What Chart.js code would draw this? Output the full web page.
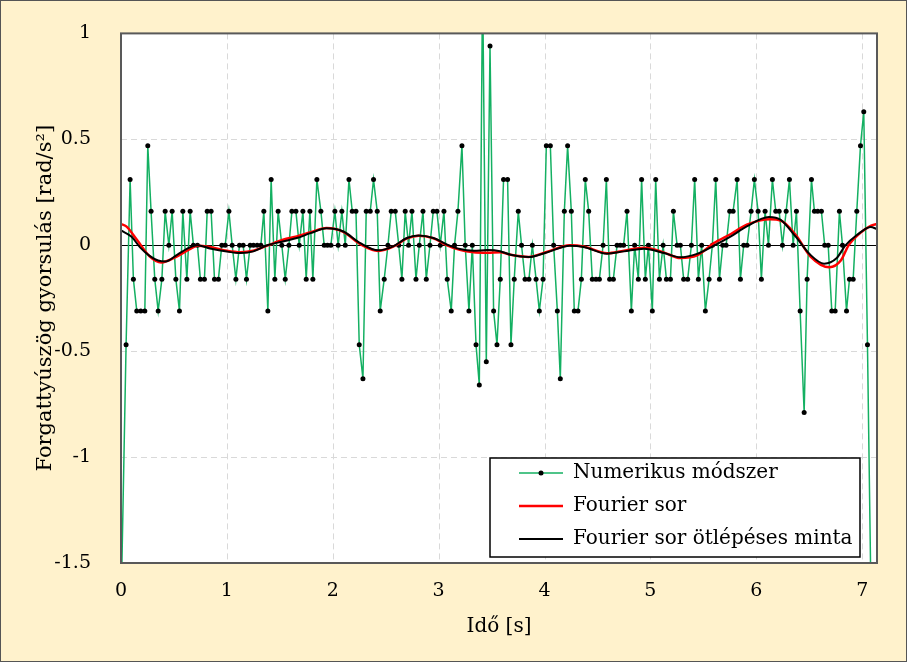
<!DOCTYPE html>
<html>
<head>
<meta charset="utf-8">
<script src="https://cdn.jsdelivr.net/npm/chart.js@4.4.0/dist/chart.umd.min.js"></script>
<style>
  html, body { margin: 0; padding: 0; background: #fff2cc; }
</style>
</head>
<body>
<canvas id="chart" width="907" height="662"></canvas>
<script>
// Numerikus módszer (time [s], value [rad/s^2])
const numTime = [
  0, 0.048, 0.086, 0.117, 0.149, 0.187, 0.225, 0.253, 0.284, 0.319,
  0.351, 0.386, 0.417, 0.452, 0.483, 0.518, 0.552, 0.584, 0.622, 0.653,
  0.684, 0.722, 0.750, 0.788, 0.814, 0.851, 0.883, 0.920, 0.952, 0.984,
  1.019, 1.050, 1.085, 1.119, 1.154, 1.185, 1.220, 1.251, 1.286, 1.321,
  1.349, 1.387, 1.418, 1.453, 1.484, 1.519, 1.551, 1.586, 1.614, 1.652,
  1.683, 1.718, 1.749, 1.784, 1.812, 1.850, 1.888, 1.919, 1.950, 1.982,
  2.020, 2.051, 2.086, 2.118, 2.153, 2.184, 2.219, 2.250, 2.285, 2.316,
  2.354, 2.385, 2.420, 2.448, 2.486, 2.521, 2.552, 2.590, 2.623, 2.653,
  2.684, 2.716, 2.748, 2.786, 2.817, 2.852, 2.883, 2.918, 2.949, 2.984,
  3.015, 3.050, 3.081, 3.119, 3.150, 3.182, 3.220, 3.251, 3.286, 3.318,
  3.353, 3.384, 3.415, 3.450, 3.485, 3.519, 3.551, 3.582, 3.613, 3.651,
  3.683, 3.714, 3.752, 3.783, 3.816, 3.853, 3.885, 3.920, 3.951, 3.986,
  4.017, 4.055, 4.086, 4.121, 4.149, 4.187, 4.218, 4.253, 4.281, 4.316,
  4.348, 4.385, 4.417, 4.451, 4.486, 4.518, 4.553, 4.584, 4.615, 4.650,
  4.685, 4.716, 4.747, 4.779, 4.820, 4.851, 4.886, 4.917, 4.952, 4.981,
  5.018, 5.050, 5.085, 5.120, 5.151, 5.189, 5.217, 5.252, 5.283, 5.314,
  5.352, 5.387, 5.418, 5.453, 5.484, 5.519, 5.554, 5.585, 5.617, 5.652,
  5.683, 5.715, 5.749, 5.781, 5.819, 5.850, 5.881, 5.913, 5.951, 5.982,
  6.017, 6.048, 6.083, 6.115, 6.152, 6.184, 6.216, 6.247, 6.282, 6.313,
  6.348, 6.379, 6.414, 6.452, 6.480, 6.521, 6.549, 6.580, 6.615, 6.646,
  6.679, 6.713, 6.745, 6.785, 6.814, 6.852, 6.880, 6.915, 6.949, 6.984,
  7.015, 7.050, 7.083
];
const numValue = [
  -1.73, -0.47, 0.31, -0.16, -0.31, -0.31, -0.31, 0.47, 0.16, -0.16,
  -0.31, -0.16, 0.16, 0, 0.16, -0.16, -0.31, 0.16, -0.16, 0.16,
  0, 0, -0.16, -0.16, 0.16, 0.16, -0.16, -0.16, 0, 0,
  0.16, 0, -0.16, 0, 0, -0.16, 0, 0, 0, 0,
  0.16, -0.31, 0.31, -0.16, 0.16, 0, -0.16, 0, 0.16, 0.16,
  0, 0.16, -0.16, 0.16, -0.16, 0.31, 0.16, 0, 0, 0,
  0.16, 0, 0.16, 0, 0.31, 0.16, 0.16, -0.47, -0.63, 0.16,
  0.16, 0.31, 0.16, -0.31, -0.16, 0, 0.16, 0.16, 0, -0.16,
  0.16, 0, 0.16, -0.16, 0, 0.16, -0.16, 0, 0.16, 0.16,
  0, 0.16, -0.16, -0.31, 0, 0.16, 0.47, 0, -0.31, 0,
  -0.47, -0.66, 1.26, -0.55, 0.94, -0.31, -0.47, -0.16, 0.31, 0.31,
  -0.47, -0.16, 0.16, 0, -0.16, -0.16, 0, -0.16, -0.31, -0.16,
  0.47, 0.47, 0, -0.31, -0.63, 0.16, 0.47, 0.16, -0.31, -0.31,
  -0.16, 0.31, 0.16, -0.16, -0.16, -0.16, 0, 0.31, -0.16, -0.16,
  0, 0, 0, 0.16, -0.31, 0, -0.16, 0.31, -0.16, 0,
  -0.31, 0.31, -0.16, 0, -0.16, -0.16, 0.16, 0, 0, -0.16,
  -0.16, 0, 0.31, -0.16, 0, -0.31, -0.16, 0, 0.31, -0.16,
  0, 0, 0.16, 0.16, 0.31, -0.16, 0, 0, 0.16, 0.31,
  0.16, -0.16, 0.16, 0, 0.31, 0.16, 0.16, 0, 0.16, 0.31,
  0, 0.16, -0.31, -0.79, -0.16, 0.31, 0.16, 0.16, 0.16, 0,
  0, -0.31, -0.31, 0.16, 0, -0.31, -0.16, -0.16, 0.16, 0.47,
  0.63, -0.47, -1.65
];

// Fourier sor
const fourierTime = [0, 0.05, 0.15, 0.27, 0.38, 0.53, 0.65, 0.72, 0.84, 1.0, 1.13, 1.25, 1.38, 1.53, 1.66, 1.79, 1.94,
  2.10, 2.26, 2.43, 2.57, 2.70, 2.81, 2.95, 3.08, 3.20, 3.33, 3.46, 3.58, 3.68, 3.85, 4.02, 4.24, 4.37, 4.59, 4.75,
  4.94, 5.13, 5.28, 5.44, 5.60, 5.76, 5.91, 6.13, 6.23, 6.37, 6.51, 6.69, 6.80, 6.87, 6.98, 7.08, 7.14];
const fourierValue = [0.10, 0.089, 0.026, -0.052, -0.081, -0.052, -0.018, -0.002, -0.008, -0.026, -0.033, -0.026, -0.002,
  0.026, 0.042, 0.061, 0.081, 0.063, 0.005, -0.027, -0.007, 0.032, 0.045, 0.033, 0.0, -0.022, -0.033, -0.035, -0.033,
  -0.045, -0.055, -0.032, 0.0, -0.006, -0.038, -0.026, -0.012, -0.035, -0.06, -0.048, 0.01, 0.053, 0.097, 0.123, 0.117,
  0.05, -0.052, -0.104, -0.071, -0.002, 0.057, 0.092, 0.10];

// Fourier sor ötlépéses minta
const mintaTime = [0, 0.1, 0.18, 0.27, 0.35, 0.42, 0.53, 0.65, 0.72, 0.84, 1.0, 1.13, 1.25, 1.38, 1.53, 1.66, 1.79, 1.94,
  2.10, 2.26, 2.43, 2.57, 2.70, 2.81, 2.95, 3.08, 3.20, 3.33, 3.46, 3.58, 3.68, 3.85, 4.02, 4.24, 4.37, 4.59, 4.75,
  4.94, 5.13, 5.28, 5.44, 5.60, 5.76, 5.91, 6.12, 6.23, 6.37, 6.51, 6.64, 6.76, 6.84, 6.95, 7.08, 7.14];
const mintaValue = [0.07, 0.04, -0.01, -0.05, -0.072, -0.077, -0.045, -0.01, 0.0, -0.015, -0.03, -0.037, -0.029, 0.0,
  0.018, 0.034, 0.057, 0.08, 0.065, 0.01, -0.024, -0.005, 0.034, 0.046, 0.034, 0.003, -0.018, -0.026, -0.023, -0.028,
  -0.045, -0.056, -0.034, -0.002, -0.008, -0.04, -0.029, -0.016, -0.037, -0.057, -0.041, -0.002, 0.042, 0.089, 0.133,
  0.12, 0.042, -0.045, -0.087, -0.06, -0.002, 0.048, 0.086, 0.076];

const xTicks = [0, 1, 2, 3, 4, 5, 6, 7];
const yTicks = [-1.5, -1, -0.5, 0, 0.5, 1];

const FONT = "'DejaVu Serif', serif";

function toPoints(xs, ys) {
  return xs.map((x, i) => ({ x: x, y: ys[i] }));
}

// background, dashed grid, zero line, frame and the legend box inside the plot
const framePlugin = {
  id: "frame",
  beforeDraw(chart) {
    const ctx = chart.ctx;
    const a = chart.chartArea;
    ctx.save();
    ctx.fillStyle = "#fff2cc";
    ctx.fillRect(0, 0, chart.width, chart.height);
    ctx.strokeStyle = "#555";
    ctx.lineWidth = 1;
    ctx.strokeRect(0.5, 0.5, chart.width - 1, chart.height - 1);
    ctx.fillStyle = "#ffffff";
    ctx.fillRect(a.left, a.top, a.right - a.left, a.bottom - a.top);
    ctx.restore();
  },
  beforeDatasetsDraw(chart) {
    const ctx = chart.ctx;
    const a = chart.chartArea;
    const xs = chart.scales.x, ys = chart.scales.y;
    ctx.save();
    ctx.strokeStyle = "#d9d9d9";
    ctx.lineWidth = 1;
    ctx.setLineDash([6, 4]);
    xTicks.forEach(v => {
      if (v === 0) return;
      const px = Math.round(xs.getPixelForValue(v)) + 0.5;
      ctx.beginPath();
      ctx.moveTo(px, a.top);
      ctx.lineTo(px, a.bottom);
      ctx.stroke();
    });
    yTicks.forEach(v => {
      if (v === 0 || v === ys.min || v === ys.max) return;
      const py = Math.round(ys.getPixelForValue(v)) + 0.5;
      ctx.beginPath();
      ctx.moveTo(a.left, py);
      ctx.lineTo(a.right, py);
      ctx.stroke();
    });
    ctx.setLineDash([]);
    const y0 = Math.round(ys.getPixelForValue(0)) + 0.5;
    ctx.strokeStyle = "#000";
    ctx.lineWidth = 1.2;
    ctx.beginPath();
    ctx.moveTo(a.left, y0);
    ctx.lineTo(a.right, y0);
    ctx.stroke();
    ctx.restore();
  },
  afterDatasetsDraw(chart) {
    const ctx = chart.ctx;
    const a = chart.chartArea;
    ctx.save();
    ctx.strokeStyle = "#595959";
    ctx.lineWidth = 2;
    ctx.strokeRect(a.left, a.top, a.right - a.left, a.bottom - a.top);

    // legend
    const box = { left: a.right - 387, top: a.bottom - 105, right: a.right - 17, bottom: a.bottom - 6 };
    ctx.fillStyle = "#fff";
    ctx.fillRect(box.left, box.top, box.right - box.left, box.bottom - box.top);
    ctx.strokeStyle = "#000";
    ctx.lineWidth = 1.5;
    ctx.strokeRect(box.left, box.top, box.right - box.left, box.bottom - box.top);
    ctx.font = "20px " + FONT;
    ctx.textBaseline = "middle";
    ctx.textAlign = "left";
    chart.data.datasets.forEach((ds, i) => {
      const cy = box.top + 15 + i * 33;
      ctx.strokeStyle = ds.borderColor;
      ctx.lineWidth = ds.borderWidth;
      ctx.beginPath();
      ctx.moveTo(box.left + 29, cy);
      ctx.lineTo(box.left + 73, cy);
      ctx.stroke();
      if (ds.pointRadius > 0) {
        ctx.fillStyle = ds.pointBackgroundColor;
        ctx.beginPath();
        ctx.arc(box.left + 51, cy, ds.pointRadius, 0, Math.PI * 2);
        ctx.fill();
      }
      ctx.fillStyle = "#000";
      ctx.fillText(ds.label, box.left + 83, cy);
    });
    ctx.restore();
  }
};

new Chart(document.getElementById("chart"), {
  type: "line",
  data: {
    datasets: [
      {
        label: "Numerikus módszer",
        data: toPoints(numTime, numValue),
        borderColor: "#14b062",
        borderWidth: 1.5,
        pointRadius: 2.5,
        pointBackgroundColor: "#000",
        pointBorderWidth: 0,
        tension: 0,
        order: 2
      },
      {
        label: "Fourier sor",
        data: toPoints(fourierTime, fourierValue),
        borderColor: "#ff0000",
        borderWidth: 2.5,
        pointRadius: 0,
        cubicInterpolationMode: "monotone",
        order: 1
      },
      {
        label: "Fourier sor ötlépéses minta",
        data: toPoints(mintaTime, mintaValue),
        borderColor: "#000000",
        borderWidth: 2,
        pointRadius: 0,
        cubicInterpolationMode: "monotone",
        order: 0
      }
    ]
  },
  options: {
    responsive: false,
    animation: false,
    layout: { padding: { top: 30, right: 30, left: 0, bottom: 0 } },
    plugins: { legend: { display: false }, tooltip: { enabled: false } },
    scales: {
      x: {
        type: "linear",
        min: 0,
        max: 7.14,
        afterBuildTicks: s => { s.ticks = xTicks.map(v => ({ value: v })); },
        afterFit: s => { s.height = 99; },
        grid: { display: false },
        border: { display: false },
        ticks: { color: "#000", font: { family: FONT, size: 19 }, padding: 9, maxRotation: 0 },
        title: { display: true, text: "Idő [s]", color: "#000", font: { family: FONT, size: 20 }, padding: { bottom: 23 } }
      },
      y: {
        min: -1.5,
        max: 1,
        afterBuildTicks: s => { s.ticks = yTicks.map(v => ({ value: v })); },
        afterFit: s => { s.width = 121; },
        grid: { display: false },
        border: { display: false },
        ticks: { color: "#000", font: { family: FONT, size: 19 }, padding: 22, callback: v => String(v) },
        title: { display: true, text: "Forgattyúszög gyorsulás [rad/s²]", color: "#000", font: { family: FONT, size: 21 }, padding: { top: 33 } }
      }
    }
  },
  plugins: [framePlugin]
});
</script>
</body>
</html>
